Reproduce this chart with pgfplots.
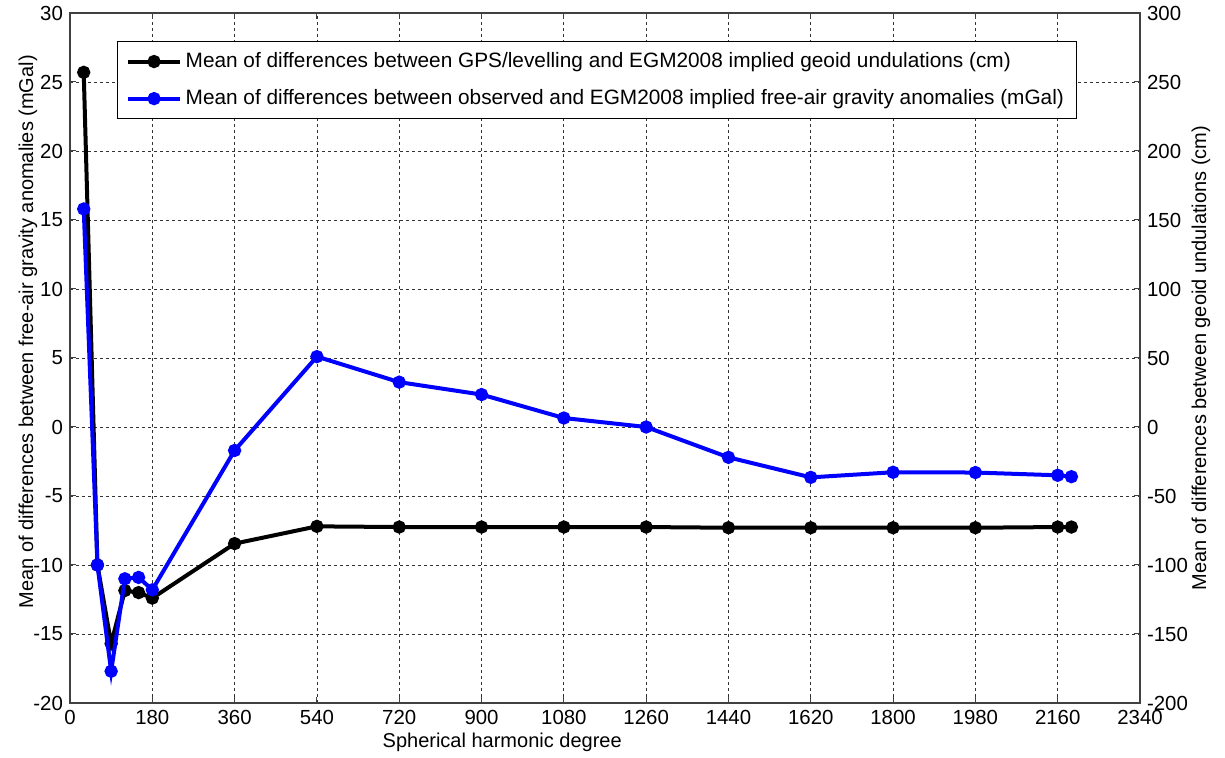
\documentclass[border=0pt]{standalone}
\usepackage{fontspec}
\setmainfont{Liberation Sans}
\usepackage{pgfplots}
\pgfplotsset{compat=1.18}
\begin{document}
\begin{tikzpicture}
\pgfplotsset{
  common/.style={scale only axis, width=535pt, height=345pt, at={(0,0)}, anchor=south west,
    xmin=0, xmax=2340, tick align=inside, major tick length=3pt,
    /pgf/number format/assume math mode=true, /pgf/number format/1000 sep={},
    tick label style={font=\fontsize{10.2}{12}\selectfont},
    axis line style={black!75, line width=0.6pt}, every tick/.style={black!75, line width=0.5pt}},
}
\begin{axis}[common, ymin=-200, ymax=300, ytick={-200,-150,...,300}, xtick={0,180,...,2340},
  ytick pos=right, yticklabel pos=right, xtick pos=both, xticklabel pos=bottom,
  grid=major, major grid style={black!80, line width=0.4pt, dash pattern=on 1.5pt off 1.5pt}]
\addplot[black, line width=2pt, mark=*, mark size=2.3pt] table {
x y
30 257
60 -100
90 -157
120 -118.5
150 -120
180 -124
360 -84.5
540 -72
720 -72.5
900 -72.5
1080 -72.5
1260 -72.5
1440 -73
1620 -73
1800 -73
1980 -73
2160 -72.5
2190 -72.5
};
\end{axis}
\begin{axis}[common, ymin=-20, ymax=30, ytick={-20,-15,...,30}, xtick=\empty,
  ytick pos=left, yticklabel pos=left,
  legend style={at={(rel axis cs:0.0439,0.9594)}, anchor=north west, draw=black, line width=0.5pt,
    font=\fontsize{10.4}{12.5}\selectfont, row sep=5.5pt, inner xsep=4.5pt, inner ysep=3.5pt},
  legend cell align=left,
  legend image code/.code={\draw[mark repeat=2, mark phase=2, #1] plot coordinates {(0cm,0cm) (0.45cm,0cm) (0.9cm,0cm)};}]
\addlegendimage{black, line width=2pt, mark=*, mark size=2.3pt}
\addplot[blue, line width=2pt, mark=*, mark size=2.3pt] table {
x y
30 15.8
60 -10
90 -17.7
120 -11.0
150 -10.9
180 -11.8
360 -1.7
540 5.1
720 3.25
900 2.35
1080 0.65
1260 0.0
1440 -2.2
1620 -3.65
1800 -3.28
1980 -3.3
2160 -3.5
2190 -3.6
};
\legend{Mean of differences between GPS/levelling and EGM2008 implied geoid undulations (cm),
        Mean of differences between observed and EGM2008 implied free-air gravity anomalies (mGal)}
\end{axis}
\node[font=\fontsize{10}{12}\selectfont] at (216.1pt,-19.5pt) {Spherical harmonic degree};
\node[font=\fontsize{10}{12}\selectfont, rotate=90] at (-21pt,185.6pt) {Mean of differences between free-air gravity anomalies (mGal)};
\node[font=\fontsize{10}{12}\selectfont, rotate=90] at (565.5pt,172.5pt) {Mean of differences between geoid undulations (cm)};
\pgfresetboundingbox
\path[use as bounding box] (-35pt,-27.5pt) rectangle (577.5pt,351.5pt);
\end{tikzpicture}
\end{document}
